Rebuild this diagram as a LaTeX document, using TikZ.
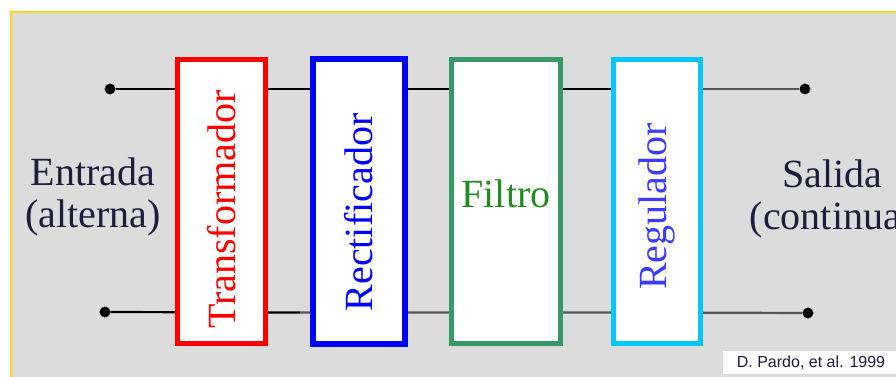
\documentclass[tikz,border=0pt]{standalone}
\usepackage{fontspec}
\setmainfont{Liberation Serif}
\newfontfamily\credfont{Liberation Sans}
\definecolor{panelgrey}{HTML}{DCDCDC}
\definecolor{panelyellow}{HTML}{FFD42A}
\definecolor{txtdark}{HTML}{1E1E3C}
\definecolor{bred}{HTML}{FF0000}
\definecolor{bblue}{HTML}{0000FF}
\definecolor{bgreen}{HTML}{379966}
\definecolor{tgreen}{HTML}{228B22}
\definecolor{bcyan}{HTML}{00C8FF}
\definecolor{tviolet}{HTML}{3C3CFF}
\definecolor{wiregrey}{HTML}{555555}
\tikzset{
  blockbox/.style={draw, line width=5pt, fill=white, inner sep=0pt, minimum height=284pt},
  dotnode/.style={circle, fill=black, inner sep=0pt, minimum size=11pt},
  wireblack/.style={line width=2.2pt, black},
  wiregray/.style={line width=2.2pt, wiregrey},
  bigtxt/.style={font=\fontsize{40}{42}\selectfont, align=center, text=txtdark},
}
\begin{document}
\begin{tikzpicture}[x=1pt, y=-1pt]
\useasboundingbox (0,0) rectangle (896,377);
\fill[white] (0,0) rectangle (896,377);
\fill[panelgrey] (11,12) rectangle (900,380);
\draw[panelyellow, line width=2pt] (11,380) -- (11,12) -- (900,12);
% terminals
\node[dotnode] (in1) at (110,89) {};
\node[dotnode] (in2) at (105,312) {};
\node[dotnode] (out1) at (805,89) {};
\node[dotnode] (out2) at (808,313) {};
% wires
\coordinate (mid1) at (657,89);
\coordinate (mid2) at (657,312.5);
\draw[wireblack] (in1) -- (mid1);
\draw[wiregray] (mid1) -- (out1);
\draw[wireblack] (in2) -- (300,312.5);
\draw[wiregray] (300,312.5) -- (mid2) -- (out2);
% blocks
\node[blockbox, draw=bred, minimum width=88pt] (tr) at (221.5,201.5)
  {\rotatebox{90}{\fontsize{40}{42}\selectfont\color{bred}\hspace*{-16pt}Transformador}};
\node[blockbox, draw=bblue, line width=6pt, minimum width=92pt] (re) at (359,201.5)
  {\rotatebox{90}{\fontsize{40}{42}\selectfont\color{bblue}\hspace*{-22pt}Rectificador}};
\node[blockbox, draw=bgreen, minimum width=109pt] (fi) at (506,201.5)
  {\fontsize{40}{42}\selectfont\color{tgreen}\raisebox{-6pt}[0pt][0pt]{Filtro}};
\node[blockbox, draw=bcyan, minimum width=87pt] (rg) at (657,201.5)
  {\rotatebox{90}{\fontsize{40}{42}\selectfont\color{tviolet}\hspace*{-10pt}Regulador}};
% labels
\node[bigtxt] (inlbl) at (93,197) {Entrada\\(alterna)};
\node[bigtxt] (outlbl) at (832,199) {Salida\\(continua)};
% credit
\node[fill=white, minimum width=176pt, minimum height=23pt, inner sep=0pt,
      font=\credfont\fontsize{16}{16}\selectfont, text=txtdark] (cred) at (811,362.5)
  {D. Pardo, et al. 1999};
\end{tikzpicture}
\end{document}
